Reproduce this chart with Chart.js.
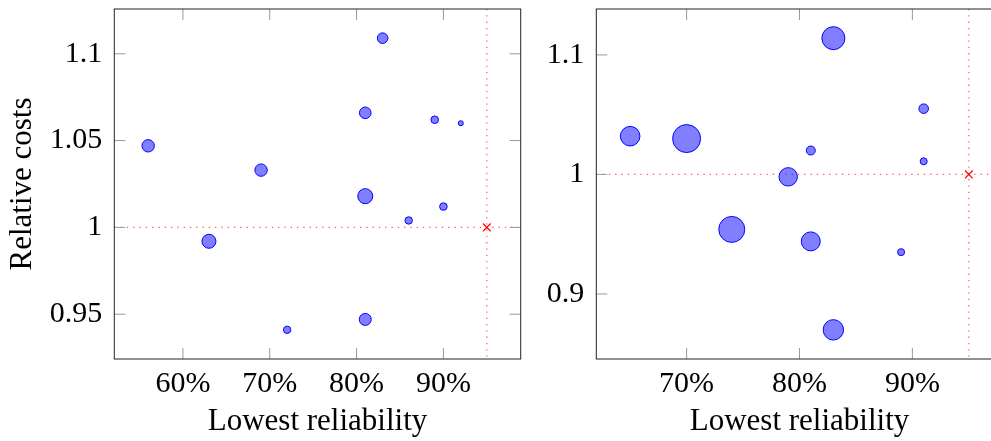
<!DOCTYPE html>
<html>
<head>
<meta charset="utf-8">
<script src="https://cdn.jsdelivr.net/npm/chart.js@4.4.1/dist/chart.umd.min.js"></script>
<style>
  html, body { margin: 0; padding: 0; background: #fff; overflow: hidden; width: 991px; height: 441px; }
  #left { position: absolute; left: 0; top: 0; }
  #right { position: absolute; left: 530px; top: 0; }
</style>
</head>
<body>
<canvas id="left" width="530" height="441"></canvas>
<canvas id="right" width="490" height="441"></canvas>
<script>
// left panel
const leftReliability = [56, 63, 69, 72, 81, 81, 81, 83, 86, 89, 90, 92];
const leftCosts = [1.047, 0.992, 1.033, 0.941, 1.066, 1.018, 0.947, 1.109, 1.004, 1.062, 1.012, 1.060];
const leftSizes = [6.2, 7.0, 6.2, 3.7, 5.8, 7.5, 6.0, 5.3, 3.7, 3.8, 3.8, 2.5];
const leftXTicks = [60, 70, 80, 90];
const leftYTicks = [0.95, 1, 1.05, 1.1];

// right panel
const rightReliability = [65, 70, 74, 79, 81, 81, 83, 83, 89, 91, 91];
const rightCosts = [1.032, 1.030, 0.954, 0.998, 1.020, 0.944, 1.114, 0.870, 0.935, 1.055, 1.011];
const rightSizes = [9.8, 14.0, 13.0, 9.2, 4.5, 9.5, 11.5, 10.2, 3.5, 4.8, 3.5];
const rightXTicks = [70, 80, 90];
const rightYTicks = [0.9, 1, 1.1];

// reference point (red cross + dotted lines)
const targetReliability = 95;
const targetCost = 1;

const serif = '"Liberation Serif", "DejaVu Serif", serif';
const tickFont = { family: serif, size: 30 };
const titleFont = { family: serif, size: 31 };

// pgfplots style: enlarge limits by 10% of data range
function limits(values) {
  const lo = Math.min(...values), hi = Math.max(...values);
  const pad = (hi - lo) * 0.1;
  return [lo - pad, hi + pad];
}

// frame, inward ticks on all sides and the dotted reference lines
const framePlugin = {
  id: 'frame',
  beforeDatasetsDraw(chart) {
    const { ctx, chartArea: a, scales: { x, y } } = chart;
    ctx.save();
    ctx.strokeStyle = 'rgba(255,0,0,0.65)';
    ctx.lineWidth = 1.2;
    ctx.setLineDash([1.3, 5]);
    const ty = y.getPixelForValue(targetCost);
    const tx = x.getPixelForValue(targetReliability);
    ctx.beginPath();
    ctx.moveTo(a.left, ty); ctx.lineTo(a.right, ty);
    ctx.moveTo(tx, a.top); ctx.lineTo(tx, a.bottom);
    ctx.stroke();
    ctx.restore();
  },
  afterDraw(chart) {
    const { ctx, chartArea: a, scales: { x, y } } = chart;
    ctx.save();
    ctx.strokeStyle = '#999';
    ctx.lineWidth = 1;
    ctx.beginPath();
    x.ticks.forEach(t => {
      const px = x.getPixelForValue(t.value);
      ctx.moveTo(px, a.bottom); ctx.lineTo(px, a.bottom - 11);
      ctx.moveTo(px, a.top); ctx.lineTo(px, a.top + 11);
    });
    y.ticks.forEach(t => {
      const py = y.getPixelForValue(t.value);
      ctx.moveTo(a.left, py); ctx.lineTo(a.left + 11, py);
      ctx.moveTo(a.right, py); ctx.lineTo(a.right - 11, py);
    });
    ctx.stroke();
    ctx.strokeStyle = '#222';
    ctx.strokeRect(a.left, a.top, a.right - a.left, a.bottom - a.top);
    ctx.restore();
  }
};

function makeChart(id, xs, ys, sizes, xTicks, yTicks, yAxisWidth, rightPad, showYTitle) {
  const xLim = limits(xs.concat([targetReliability]));
  const yLim = limits(ys.concat([targetCost]));
  new Chart(document.getElementById(id), {
    type: 'bubble',
    data: {
      datasets: [{
        data: xs.map((v, i) => ({ x: v, y: ys[i], r: sizes[i] })),
        backgroundColor: 'rgba(0,0,255,0.5)',
        borderColor: '#0000ff',
        borderWidth: 1
      }, {
        data: [{ x: targetReliability, y: targetCost, r: 5.5 }],
        pointStyle: 'crossRot',
        borderColor: '#ff0000',
        borderWidth: 1.2
      }]
    },
    options: {
      responsive: false,
      animation: false,
      layout: { autoPadding: false, padding: { top: 9, right: rightPad, left: 0, bottom: 0 } },
      plugins: { legend: { display: false }, tooltip: { enabled: false } },
      scales: {
        x: {
          type: 'linear', min: xLim[0], max: xLim[1],
          afterBuildTicks: s => { s.ticks = xTicks.map(v => ({ value: v })); },
          afterFit: s => { s.height = 82; s.paddingLeft = 0; s.paddingRight = 0; },
          grid: { display: false, drawTicks: false },
          border: { display: false },
          ticks: { callback: v => v + '%', font: tickFont, color: '#000', padding: 7, maxRotation: 0, autoSkip: false },
          title: { display: true, text: 'Lowest reliability', font: titleFont, color: '#000', padding: { top: 0, bottom: 1 } }
        },
        y: {
          type: 'linear', min: yLim[0], max: yLim[1],
          afterBuildTicks: s => { s.ticks = yTicks.map(v => ({ value: v })); },
          afterFit: s => { s.width = yAxisWidth; s.paddingTop = 0; s.paddingBottom = 0; },
          grid: { display: false, drawTicks: false },
          border: { display: false },
          ticks: { callback: v => String(v), font: tickFont, color: '#000', padding: 12, autoSkip: false },
          title: { display: showYTitle, text: 'Relative costs', font: titleFont, color: '#000', padding: { top: 4, bottom: 0 } }
        }
      }
    },
    plugins: [framePlugin]
  });
}

makeChart('left', leftReliability, leftCosts, leftSizes, leftXTicks, leftYTicks, 114.3, 9.3, true);
makeChart('right', rightReliability, rightCosts, rightSizes, rightXTicks, rightYTicks, 66.3, 17.3, false);
</script>
</body>
</html>
